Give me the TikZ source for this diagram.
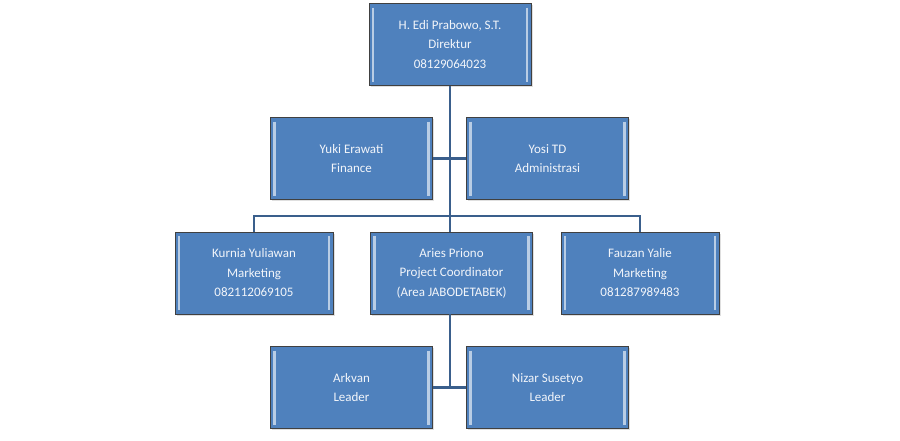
\documentclass[tikz,border=0pt]{standalone}
\usepackage{fontspec}
\setmainfont{Carlito}
\usepackage{tikz}
\usetikzlibrary{positioning, calc, shadows}

\definecolor{boxblue}{HTML}{4F81BD}
\definecolor{edgeblue}{HTML}{B9CDE5}
\definecolor{linkblue}{HTML}{3A5F8C}
\definecolor{textwhite}{HTML}{F2F5FA}

\begin{document}
\begin{tikzpicture}[
			x=1pt, y=-1pt,
			box/.style={draw=black!75, line width=0.8pt, fill=boxblue,
				minimum width=162pt, minimum height=82pt, inner sep=0pt,
				align=center, text=textwhite, font=\fontsize{13}{19.5}\selectfont,
				drop shadow={opacity=0.25, shadow xshift=1.5pt, shadow yshift=-1.5pt},
				path picture={
					\draw[edgeblue, line width=2.4pt]
						([xshift=4pt,yshift=-4pt]path picture bounding box.north west) --
						([xshift=4pt,yshift=4pt]path picture bounding box.south west);
					\draw[edgeblue, line width=2.4pt]
						([xshift=-4pt,yshift=-4pt]path picture bounding box.north east) --
						([xshift=-4pt,yshift=4pt]path picture bounding box.south east);
				}},
			smallbox/.style={box, minimum width=158pt},
			link/.style={draw=linkblue, line width=2.3pt}
			]
			\useasboundingbox[fill=white] (0,0) rectangle (900,440);

			\coordinate (bus) at (450,216);

			\node[box] (dir) at (450,44.5) {H. Edi Prabowo, S.T. \\ Direktur \\ 08129064023};
			\node[box] (fin) at (351.5,158.5) {Yuki Erawati \\ Finance};
			\node[box] (adm) at (547.5,158.5) {Yosi TD \\ Administrasi};
			\node[smallbox] (mkt1) at (254,273) {Kurnia Yuliawan \\ Marketing \\ 082112069105};
			\node[box] (pc) at (451.5,273) {Aries Priono \\ Project Coordinator \\ (Area JABODETABEK)};
			\node[smallbox] (mkt2) at (640,273) {Fauzan Yalie \\ Marketing \\ 081287989483};
			\node[box] (ld1) at (351.5,387.5) {Arkvan \\ Leader};
			\node[box] (ld2) at (547.5,387.5) {Nizar Susetyo \\ Leader};

			% connectors
			\draw[link] (dir.south) -- (dir.south |- pc.north);
			\draw[link] (fin.east) -- (adm.west);
			\draw[link] (mkt1.north) |- (bus) -| (mkt2.north);
			\draw[link] (pc.south -| bus) -- (bus |- ld1.east);
			\draw[link] (ld1.east) -- (ld2.west);
		\end{tikzpicture}
\end{document}
